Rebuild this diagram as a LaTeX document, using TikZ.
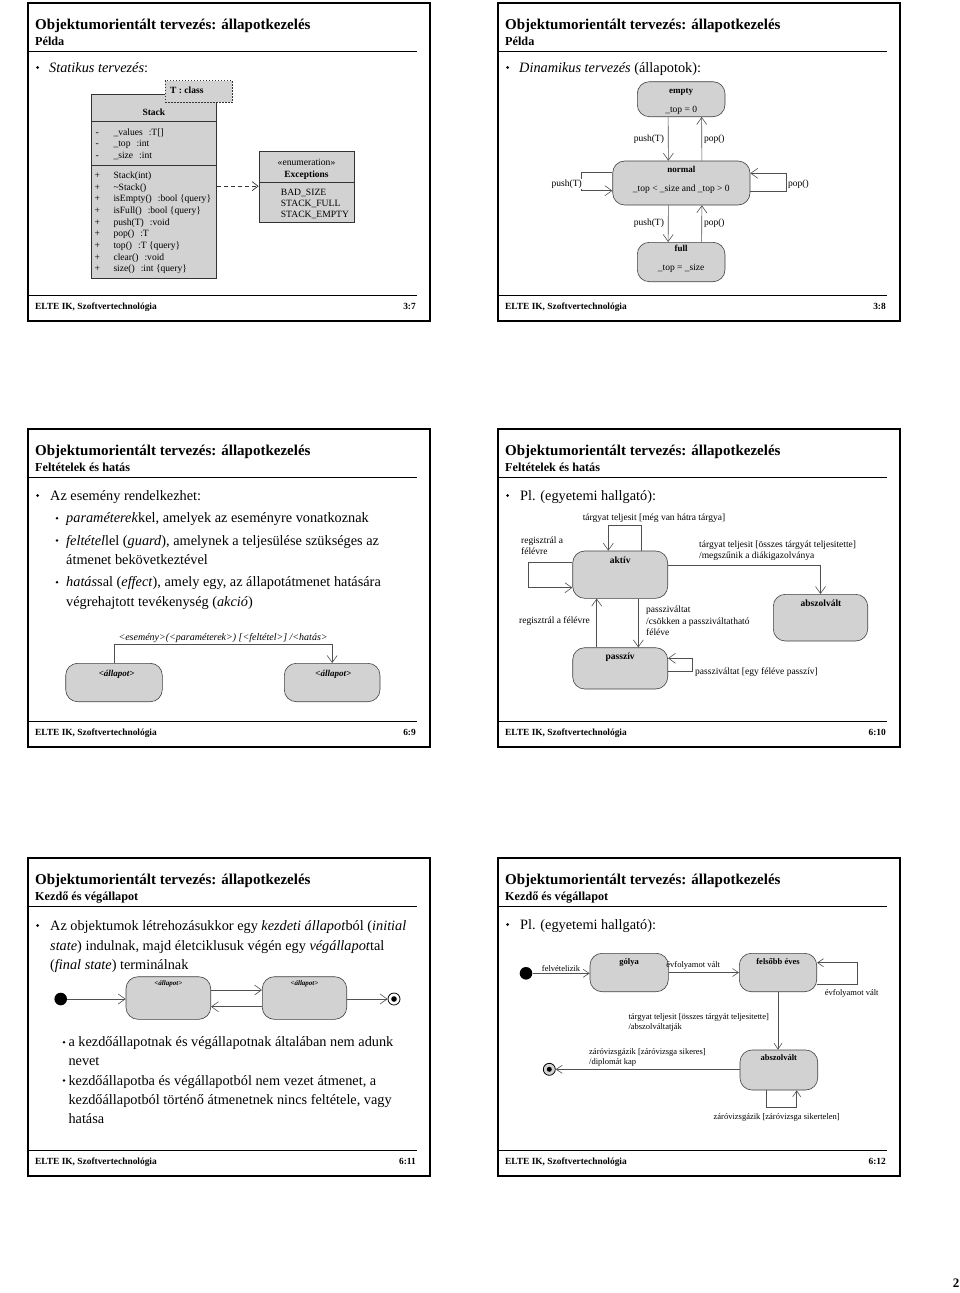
\documentclass[tikz,border=0pt]{standalone}
\usepackage{fontspec}
\setmainfont{Liberation Serif}
\usetikzlibrary{arrows.meta,positioning}

\definecolor{boxgray}{RGB}{210,210,210}
\definecolor{wiregray}{RGB}{80,80,80}

\tikzset{
  slideframe/.style={draw=black,line width=1.7pt},
  headrule/.style={draw=black,line width=0.8pt},
  slidetitle/.style={anchor=base west,inner sep=0pt,font=\fontsize{15}{17}\selectfont\bfseries},
  slidesub/.style={anchor=base west,inner sep=0pt,font=\fontsize{12.2}{14}\selectfont\bfseries},
  foot/.style={inner sep=0pt,font=\fontsize{9.4}{10}\selectfont\bfseries},
  body/.style={anchor=base west,inner sep=0pt,font=\fontsize{14.3}{19}\selectfont},
  bul/.style={circle,fill=black,inner sep=0pt,minimum size=3pt},
  subbul/.style={circle,fill=black,inner sep=0pt,minimum size=2.6pt},
  classbox/.style={draw=black!80,fill=boxgray,line width=0.6pt,inner sep=0pt},
  tmplbox/.style={draw=black!80,fill=boxgray,dash pattern=on 1.5pt off 1.5pt,line width=0.8pt,inner sep=0pt},
  clstext/.style={anchor=base west,inner sep=0pt,font=\fontsize{9.6}{11.7}\selectfont},
  dep/.style={draw=black!80,line width=0.7pt,dash pattern=on 4pt off 3pt,-{Straight Barb[length=6pt,width=9pt]}},
  statebox/.style={draw=black!75,fill=boxgray,rounded corners=12pt,line width=0.6pt,inner sep=0pt},
  trans/.style={draw=wiregray,line width=0.6pt,-{Straight Barb[length=7pt,width=10pt]}},
  smalltrans/.style={trans,-{Straight Barb[length=6pt,width=8pt]}},
  lbl/.style={inner sep=0pt,font=\fontsize{9.5}{11.7}\selectfont},
  smalllbl/.style={inner sep=0pt,font=\fontsize{8.5}{10}\selectfont},
  initdot/.style={circle,fill=black,inner sep=0pt,minimum size=12.6pt},
  finaldot/.style={circle,draw=black,fill=white,line width=0.8pt,inner sep=0pt,minimum size=12pt},
}

% gap between a member and its type
\newcommand{\colgap}{\hspace{6pt}}

% frame, title, rules and footer of one slide
\newcommand{\slidehead}[3]{%
  \draw[slideframe] (0,0) rectangle (402,318);
  \node[slidetitle] (#1title) at (7,26) {Objektumorientált tervezés: állapotkezelés};
  \node[slidesub] (#1sub) at (7,42.5) {#2};
  \draw[headrule] (0,48.7) -- (389,48.7);
  \draw[headrule] (0,292) -- (389,292);
  \node[foot,anchor=base west] (#1foot) at (7,306) {ELTE IK, Szoftvertechnológia};
  \node[foot,anchor=base east] (#1num) at (388,306) {#3};
}

\begin{document}
\begin{tikzpicture}[x=1pt,y=-1pt]
  \fill[white] (0,0) rectangle (960,1293);
  \useasboundingbox (0,0) rectangle (960,1293);

  % ---- 3:7 static design
  \begin{scope}[shift={(28,3)}]
    \slidehead{a}{Példa}{3:7}
    \node[bul] (abul) at (9.7,64.5) {};
    \node[body] (atext) at (21,69.3) {\textit{Statikus tervezés}:};

    \node[classbox,minimum width=125.7pt,minimum height=183.7pt] (stack) at (125.85,183.15) {};
    \draw[draw=black!80,line width=0.6pt] (63,118.7) -- (188.7,118.7);
    \draw[draw=black!80,line width=0.6pt] (63,162.7) -- (188.7,162.7);
    \node[tmplbox,minimum width=67.3pt,minimum height=21.6pt] (tparam) at (170.65,88.5) {};

    \node[classbox,minimum width=95pt,minimum height=71.7pt] (exc) at (278.5,183.85) {};
    \draw[draw=black!80,line width=0.6pt] (231,179.3) -- (326,179.3);

    \begin{scope}[every node/.style={clstext}]
      \node[font=\fontsize{9.5}{11.7}\selectfont\bfseries] (tname) at (142,90.3) {T : class};
      \node[anchor=base,font=\fontsize{9.5}{11.7}\selectfont\bfseries] (sname) at (125.85,112.3) {Stack};
      \node[anchor=base] (v1) at (69.3,132) {-};
      \node[anchor=base] (v2) at (69.3,143.6) {-};
      \node[anchor=base] (v3) at (69.3,155.3) {-};
      \node (f1) at (85.3,132) {\_values\colgap:T[]};
      \node (f2) at (85.3,143.6) {\_top\colgap:int};
      \node (f3) at (85.3,155.3) {\_size\colgap:int};
      \node[anchor=base] (p1) at (69.3,175.3) {+};
      \node[anchor=base] (p2) at (69.3,187) {+};
      \node[anchor=base] (p3) at (69.3,198.6) {+};
      \node[anchor=base] (p4) at (69.3,210.3) {+};
      \node[anchor=base] (p5) at (69.3,222) {+};
      \node[anchor=base] (p6) at (69.3,233.6) {+};
      \node[anchor=base] (p7) at (69.3,245.3) {+};
      \node[anchor=base] (p8) at (69.3,257) {+};
      \node[anchor=base] (p9) at (69.3,268.6) {+};
      \node (o1) at (85.3,175.3) {Stack(int)};
      \node (o2) at (85.3,187) {\textasciitilde Stack()};
      \node (o3) at (85.3,198.6) {isEmpty()\colgap:bool \{query\}};
      \node (o4) at (85.3,210.3) {isFull()\colgap:bool \{query\}};
      \node (o5) at (85.3,222) {push(T)\colgap:void};
      \node (o6) at (85.3,233.6) {pop()\colgap:T};
      \node (o7) at (85.3,245.3) {top()\colgap:T \{query\}};
      \node (o8) at (85.3,257) {clear()\colgap:void};
      \node (o9) at (85.3,268.6) {size()\colgap:int \{query\}};
      \node[anchor=base] (estereo) at (278.5,162.6) {«enumeration»};
      \node[anchor=base,font=\fontsize{9.5}{11.7}\selectfont\bfseries] (ename) at (278.5,174.3) {Exceptions};
      \node (e1) at (252.7,192.6) {BAD\_SIZE};
      \node (e2) at (252.7,203.6) {STACK\_FULL};
      \node (e3) at (252.7,214.6) {STACK\_EMPTY};
    \end{scope}

    \draw[dep] (stack.east) -- (stack.east -| exc.west);
  \end{scope}

  % ---- 3:8 dynamic design
  \begin{scope}[shift={(498,3)}]
    \slidehead{b}{Példa}{3:8}
    \node[bul] (bbul) at (9.7,64.5) {};
    \node[body] (btext) at (21,69.3) {\textit{Dinamikus tervezés} (állapotok):};

    \node[statebox,minimum width=87.7pt,minimum height=35pt] (empty) at (183.15,96.2) {};
    \node[statebox,minimum width=137.3pt,minimum height=44pt] (normal) at (183.35,180) {};
    \node[statebox,minimum width=87.7pt,minimum height=39.4pt] (full) at (183.15,259) {};

    \begin{scope}[every node/.style={lbl,anchor=base}]
      \node[font=\fontsize{9}{11}\selectfont\bfseries] (emptyname) at (183.15,90.9) {empty};
      \node (emptyinv) at (183.15,109.5) {\_top = 0};
      \node[font=\fontsize{9}{11}\selectfont\bfseries] (normalname) at (183.35,169.5) {normal};
      \node (normalinv) at (183.35,188.5) {\_top < \_size and \_top > 0};
      \node[font=\fontsize{9}{11}\selectfont\bfseries] (fullname) at (183.15,248.5) {full};
      \node (fullinv) at (183.15,267.9) {\_top = \_size};
    \end{scope}

    \draw[trans] ([xshift=-13pt]empty.south) -- ([xshift=-13pt]normal.north)
      node[midway,left=4pt,lbl] (bl1) {push(T)};
    \draw[trans] ([xshift=20.5pt]normal.north) -- ([xshift=20.5pt]empty.south)
      node[midway,right=2pt,lbl] (bl2) {pop()};
    \draw[trans] ([xshift=-13pt]normal.south) -- ([xshift=-13pt]full.north)
      node[midway,left=4pt,lbl] (bl3) {push(T)};
    \draw[trans] ([xshift=20.5pt]full.north) -- ([xshift=20.5pt]normal.south)
      node[midway,right=2pt,lbl] (bl4) {pop()};
    \draw[trans] ([yshift=10.3pt]normal.west) -- ++(-31,0) |- ([yshift=-7.7pt]normal.west);
    \node[lbl,anchor=east,fill=white,inner sep=1pt] (bl5) at (85,181) {push(T)};
    \draw[trans] ([yshift=-8.7pt]normal.east) -- ++(36,0) |- ([yshift=9.7pt]normal.east);
    \node[lbl,anchor=west] (bl6) at (290,181.3) {pop()};
  \end{scope}

  % ---- 6:9 guards and effects
  \begin{scope}[shift={(28,429)}]
    \slidehead{c}{Feltételek és hatás}{6:9}
    \node[bul] (cb0) at (9.7,66.5) {};
    \node[body] (ct0) at (22,71) {Az esemény rendelkezhet:};
    \node[subbul] (cb1) at (29,89.2) {};
    \node[body] (ct1) at (38,93.7) {\textit{paraméterek}kel, amelyek az eseményre vonatkoznak};
    \node[subbul] (cb2) at (29,111.5) {};
    \node[body] (ct2) at (38,116) {\textit{feltétel}lel (\textit{guard}), amelynek a teljesülése szükséges az};
    \node[body] (ct3) at (38,135.3) {átmenet bekövetkeztével};
    \node[subbul] (cb3) at (29,153.2) {};
    \node[body] (ct4) at (38,157.7) {\textit{hatás}sal (\textit{effect}), amely egy, az állapotátmenet hatására};
    \node[body] (ct5) at (38,177.7) {végrehajtott tevékenység (\textit{akció})};

    \node[statebox,minimum width=96.6pt,minimum height=38.4pt] (srcst) at (86,253.5) {};
    \node[statebox,minimum width=95.7pt,minimum height=38.4pt] (dstst) at (304.15,253.5) {};
    \node[lbl,anchor=base,font=\fontsize{9}{11}\selectfont\bfseries\itshape] (srcname) at (88.7,247.5) {<állapot>};
    \node[lbl,anchor=base,font=\fontsize{9}{11}\selectfont\bfseries\itshape] (dstname) at (305.3,247.5) {<állapot>};
    \draw[trans] (srcst.north) -- ++(0,-19) -| node[pos=0.25,above=1.5pt,lbl,font=\fontsize{10}{11}\selectfont\itshape] (trlbl)
      {<esemény>(<paraméterek>) [<feltétel>] /<hatás>} (dstst.north);
  \end{scope}

  % ---- 6:10 student example
  \begin{scope}[shift={(498,429)}]
    \slidehead{d}{Feltételek és hatás}{6:10}
    \node[bul] (dbul) at (9.7,66.5) {};
    \node[body] (dtext) at (22,71) {Pl. (egyetemi hallgató):};

    \node[statebox,minimum width=95pt,minimum height=47.3pt] (aktiv) at (122.2,145.65) {};
    \node[statebox,minimum width=94.4pt,minimum height=46.7pt] (abszolv) at (322.5,188.65) {};
    \node[statebox,minimum width=95pt,minimum height=41.3pt] (passziv) at (122.2,239.35) {};
    \begin{scope}[every node/.style={lbl,anchor=base,font=\fontsize{9.5}{11}\selectfont\bfseries}]
      \node (aktivname) at (122.2,134.2) {aktív};
      \node (abszolvname) at (323,177.5) {abszolvált};
      \node (passzivname) at (122.2,230.9) {passzív};
    \end{scope}

    \draw[trans] ([xshift=21.5pt]aktiv.north) -- ++(0,-25.3) -| ([xshift=-11.9pt]aktiv.north);
    \node[lbl,anchor=base] (dl1) at (156,91.9) {tárgyat teljesit [még van hátra tárgya]};
    \draw[trans] ([yshift=12.35pt]aktiv.west) -- ++(-44.4,0) |- ([yshift=-13.05pt]aktiv.west);
    \node[lbl,anchor=base west,align=left] (dl2) at (23,125.9) {regisztrál a\\félévre};
    \draw[trans] ([yshift=8.95pt]aktiv.east) -| (abszolv.north);
    \node[lbl,anchor=base west,align=left] (dl3) at (201,129.9)
      {tárgyat teljesit [összes tárgyát teljesitette]\\/megszűnik a diákigazolványa};
    \draw[trans] ([xshift=18.1pt]aktiv.south) -- ([xshift=18.1pt]passziv.north);
    \node[lbl,anchor=base west,align=left] (dl4) at (148,206.9)
      {passziváltat\\/csökken a passziváltatható\\féléve};
    \draw[trans] ([xshift=-23.5pt]passziv.north) -- ([xshift=-23.5pt]aktiv.south);
    \node[lbl,anchor=base east] (dl5) at (92,194.2) {regisztrál a félévre};
    \draw[trans] ([yshift=-3.35pt]passziv.east) -- ++(24,0) |- ([yshift=10.05pt]passziv.east);
    \node[lbl,anchor=base west] (dl6) at (197,245.9) {passziváltat [egy féléve passzív]};
  \end{scope}

  % ---- 6:11 initial and final state
  \begin{scope}[shift={(28,858)}]
    \slidehead{e}{Kezdő és végállapot}{6:11}
    \node[bul] (eb0) at (9.7,67.5) {};
    \node[body] (et0) at (22,72) {Az objektumok létrehozásukkor egy \textit{kezdeti állapot}ból (\textit{initial}};
    \node[body] (et1) at (22,92) {\textit{state}) indulnak, majd életciklusuk végén egy \textit{végállapot}tal};
    \node[body] (et2) at (22,111.3) {(\textit{final state}) terminálnak};

    \node[initdot] (init) at (32.7,141) {};
    \node[statebox,minimum width=84.7pt,minimum height=42.6pt] (st1) at (140.35,140) {};
    \node[statebox,minimum width=84.4pt,minimum height=42.6pt] (st2) at (276.5,140) {};
    \node[finaldot] (fin) at (366,141) {};
    \fill (fin) circle[radius=2.8pt];
    \node[lbl,anchor=base,font=\fontsize{7}{8}\selectfont\bfseries\itshape] (st1name) at (140.35,127.6) {<állapot>};
    \node[lbl,anchor=base,font=\fontsize{7}{8}\selectfont\bfseries\itshape] (st2name) at (276.5,127.6) {<állapot>};
    \draw[trans] (init) -- (init -| st1.west);
    \draw[trans] ([yshift=8pt]st1.east) -- ([yshift=8pt]st2.west);
    \draw[trans] ([yshift=-8.7pt]st2.west) -- ([yshift=-8.7pt]st1.east);
    \draw[trans] (st2.east |- fin) -- (fin);

    \node[subbul] (eb1) at (36,184.2) {};
    \node[body] (et3) at (40.3,188.7) {a kezdőállapotnak és végállapotnak általában nem adunk};
    \node[body] (et4) at (40.3,207) {nevet};
    \node[subbul] (eb2) at (36,222.5) {};
    \node[body] (et5) at (40.3,227) {kezdőállapotba és végállapotból nem vezet átmenet, a};
    \node[body] (et6) at (40.3,246.3) {kezdőállapotból történő átmenetnek nincs feltétele, vagy};
    \node[body] (et7) at (40.3,265.3) {hatása};
  \end{scope}

  % ---- 6:12 student life cycle
  \begin{scope}[shift={(498,858)}]
    \slidehead{f}{Kezdő és végállapot}{6:12}
    \node[bul] (fbul) at (9.7,66.5) {};
    \node[body] (ftext) at (22,71) {Pl. (egyetemi hallgató):};

    \node[initdot] (start) at (28,115.3) {};
    \node[statebox,minimum width=78.3pt,minimum height=38.4pt] (golya) at (131.15,114.5) {};
    \node[statebox,minimum width=77.4pt,minimum height=38.4pt] (felsobb) at (280,114.5) {};
    \node[statebox,minimum width=77.7pt,minimum height=40pt] (vegzett) at (280.85,212) {};
    \node[finaldot,fill=boxgray] (stop) at (51.3,211.3) {};
    \fill (stop) circle[radius=2.5pt];
    \begin{scope}[every node/.style={smalllbl,anchor=base,font=\fontsize{8.5}{10}\selectfont\bfseries}]
      \node (golyaname) at (131.15,106) {gólya};
      \node (felsobbname) at (280,106) {felsőbb éves};
      \node (vegzettname) at (280.85,202.7) {abszolvált};
    \end{scope}

    \draw[smalltrans] (start) -- (start -| golya.west)
      node[midway,above=1.5pt,smalllbl] (fl1) {felvételizik};
    \draw[smalltrans] (golya.east) -- (felsobb.west)
      node[pos=0.35,above=3pt,smalllbl] (fl2) {évfolyamot vált};
    \draw[smalltrans] ([yshift=-11.8pt]felsobb.east) -- ++(40,0) |- ([yshift=9.8pt]felsobb.east);
    \node[smalllbl,anchor=base] (fl3) at (353.7,137.3) {évfolyamot vált};
    \draw[smalltrans] (felsobb.south) -- (felsobb.south |- vegzett.north);
    \node[smalllbl,anchor=base west,align=left] (fl4) at (130.3,171.7)
      {tárgyat teljesit [összes tárgyát teljesitette]\\/abszolváltatják};
    \draw[smalltrans] (vegzett.west |- stop) -- (stop);
    \node[smalllbl,anchor=base west,align=left] (fl5) at (91,206.7)
      {záróvizsgázik [záróvizsga sikeres]\\/diplomát kap};
    \draw[smalltrans] ([xshift=-12.15pt]vegzett.south) -- ++(0,16.7) -| ([xshift=17.85pt]vegzett.south);
    \node[smalllbl,anchor=base] (fl6) at (278.7,261) {záróvizsgázik [záróvizsga sikertelen]};
  \end{scope}

  \node[anchor=base east,inner sep=0pt,font=\fontsize{13}{15}\selectfont\bfseries] (sheetno) at (959.5,1287) {2};
\end{tikzpicture}
\end{document}
